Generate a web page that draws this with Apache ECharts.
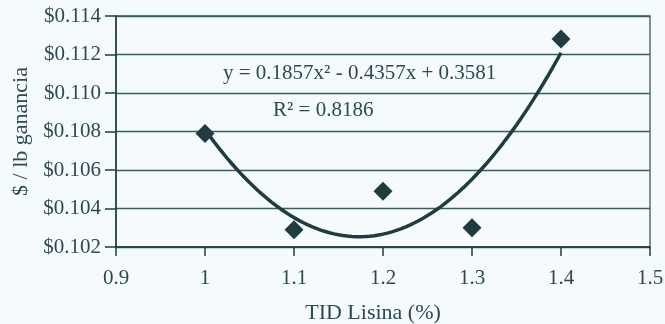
<!DOCTYPE html>
<html>
<head>
<meta charset="utf-8">
<script src="https://cdn.jsdelivr.net/npm/echarts@6/dist/echarts.min.js"></script>
<style>
html,body{margin:0;padding:0;background:#f5fafc;}
#c{width:665px;height:324px;}
</style>
</head>
<body>
<div id="c"></div>
<script>
// Data
var lysine = [1.0, 1.1, 1.2, 1.3, 1.4];
var profit = [0.1079, 0.1029, 0.1049, 0.1030, 0.1128];
// Polynomial trendline shown on the chart: y = a x^2 + b x + c
var trendCoef = [0.1857, -0.4357, 0.3581];
var trendRange = [1.0, 1.4];
var equationText = 'y = 0.1857x\u00B2 - 0.4357x + 0.3581';
var r2Text = 'R\u00B2 = 0.8186';
var xTitle = 'TID Lisina (%)';
var yTitle = '$ / lb ganancia';

var points = lysine.map(function (x, i) { return [x, profit[i]]; });
var trend = [];
for (var k = 0; k <= 80; k++) {
  var x = trendRange[0] + (trendRange[1] - trendRange[0]) * k / 80;
  trend.push([x, trendCoef[0] * x * x + trendCoef[1] * x + trendCoef[2]]);
}

var ink = '#1f3c40';
var txt = '#2b4b50';
var font = 'Liberation Serif';

var chart = echarts.init(document.getElementById('c'), null, {renderer: 'canvas'});
chart.setOption({
  backgroundColor: '#f5fafc',
  animation: false,
  grid: {left: 116, right: 15, top: 16, bottom: 77, containLabel: false, outerBoundsMode: 'none',
    show: true, borderColor: '#35605f', borderWidth: 1.3, backgroundColor: 'transparent'},
  xAxis: {
    type: 'value', min: 0.9, max: 1.5, interval: 0.1,
    name: xTitle, nameLocation: 'middle', nameGap: 55,
    nameTextStyle: {fontFamily: font, fontSize: 22, color: txt, padding: [0, 20, 0, 0]},
    axisLine: {show: true, lineStyle: {color: ink, width: 1.5}},
    axisTick: {show: true, inside: false, length: 9, lineStyle: {color: ink, width: 1.5}},
    axisLabel: {fontFamily: font, fontSize: 21, color: txt, margin: 21,
      formatter: function (v) { return String(+v.toFixed(1)); }},
    splitLine: {show: false}
  },
  yAxis: {
    type: 'value', min: 0.102, max: 0.114, interval: 0.002,
    name: yTitle, nameLocation: 'middle', nameGap: 82, nameRotate: 90,
    nameTextStyle: {fontFamily: font, fontSize: 22, color: txt},
    axisLine: {show: true, lineStyle: {color: ink, width: 1.5}},
    axisTick: {show: true, inside: false, length: 11, lineStyle: {color: ink, width: 1.5}},
    axisLabel: {fontFamily: font, fontSize: 21, color: txt, margin: 15,
      formatter: function (v) { return '$' + v.toFixed(3); }},
    splitLine: {show: true, lineStyle: {color: '#35605f', width: 1.3}}
  },
  graphic: [
    {type: 'text', left: 223, top: 63, style: {text: equationText, font: '21px "Liberation Serif"', fill: txt}},
    {type: 'text', left: 273, top: 100, style: {text: r2Text, font: '21px "Liberation Serif"', fill: txt}}
  ],
  series: [
    {type: 'line', data: trend, showSymbol: false, smooth: false,
      lineStyle: {color: ink, width: 3.5}, z: 2},
    {type: 'scatter', data: points, symbol: 'diamond', symbolSize: 19,
      itemStyle: {color: ink, opacity: 1}, z: 3}
  ]
});
</script>
</body>
</html>
